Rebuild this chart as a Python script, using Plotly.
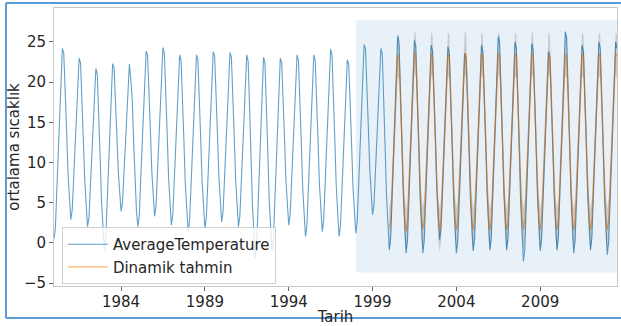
import pandas as pd
import plotly.graph_objects as go

# ---- data (monthly mean temperature) ----
observed_start = "1980-01-01"
observed_1980s = [
    0.5, 1.9, 6.4, 11.6, 16.6, 21.1, 24.2, 23.6, 19.5, 14.0, 8.7, 5.0,
    2.9, 4.1, 7.9, 12.4, 16.6, 20.4, 23.0, 22.4, 18.4, 12.9, 7.7, 4.1,
    2.0, 3.2, 6.9, 11.3, 15.4, 19.1, 21.7, 21.0, 16.7, 10.9, 5.2, 1.4,
    -0.9, 0.5, 4.9, 10.0, 14.9, 19.3, 22.3, 21.8, 18.3, 13.5, 8.9, 5.7,
    3.9, 5.0, 8.5, 12.6, 16.4, 19.9, 22.3, 20.2, 17.8, 12.6, 7.5, 4.0,
    2.0, 3.3, 7.5, 12.3, 16.9, 21.1, 23.9, 23.3, 19.4, 14.0, 8.9, 5.4,
    3.3, 4.6, 8.6, 13.2, 17.6, 21.6, 24.3, 23.6, 19.4, 13.7, 8.2, 4.4,
    2.2, 3.5, 7.5, 12.2, 16.6, 20.6, 23.4, 22.7, 18.6, 12.8, 7.3, 3.6,
    1.4, 2.7, 6.9, 11.7, 16.4, 20.5, 23.4, 22.8, 18.7, 13.0, 7.6, 4.0,
    1.8, 3.1, 7.3, 12.1, 16.8, 20.9, 23.8, 23.2, 19.1, 13.6, 8.3, 4.7,
]
observed_1990s = [
    2.6, 3.9, 7.9, 12.5, 17.0, 21.0, 23.7, 23.1, 18.9, 13.3, 7.9, 4.2,
    2.0, 3.3, 7.4, 12.1, 16.6, 20.6, 23.4, 22.6, 17.8, 11.2, 4.9, 0.5,
    -2.0, -0.5, 4.3, 9.8, 15.1, 19.8, 23.1, 22.4, 17.8, 11.5, 5.4, 1.3,
    -1.1, 0.4, 4.9, 10.2, 15.3, 19.9, 23.0, 22.4, 18.4, 13.0, 7.8, 4.3,
    2.2, 3.5, 7.5, 12.2, 16.6, 20.6, 23.4, 22.7, 18.4, 12.6, 6.9, 3.1,
    0.8, 2.2, 6.5, 11.4, 16.2, 20.5, 23.4, 22.7, 18.6, 12.8, 7.3, 3.6,
    1.4, 2.8, 7.1, 12.1, 16.8, 21.2, 24.1, 23.4, 19.0, 12.9, 7.1, 3.1,
    0.8, 2.1, 6.3, 11.1, 15.8, 19.9, 22.8, 22.2, 18.1, 12.4, 7.0, 3.4,
    1.2, 2.6, 7.1, 12.3, 17.2, 21.7, 24.7, 24.1, 20.0, 14.5, 9.2, 5.6,
    3.5, 4.7, 8.7, 13.2, 17.6, 21.5, 24.2, 23.5, 18.7, 12.2, 5.9, 1.6,
]
observed_2000s = [
    -0.9, 0.7, 5.8, 11.6, 17.2, 22.2, 25.7, 24.9, 19.8, 12.7, 6.0, 1.4,
    -1.3, 0.3, 5.3, 11.2, 16.7, 21.8, 25.2, 24.4, 19.4, 12.5, 5.9, 1.4,
    -1.3, 0.3, 5.2, 10.9, 16.3, 21.2, 24.6, 23.9, 19.3, 13.0, 6.9, 2.8,
    0.4, 1.8, 6.4, 11.7, 16.7, 21.3, 24.4, 23.6, 18.8, 12.1, 5.6, 1.3,
    -1.3, 0.2, 4.9, 10.4, 15.6, 20.4, 23.6, 22.9, 18.2, 11.8, 5.6, 1.5,
    -1.0, 0.5, 5.4, 11.0, 16.4, 21.3, 24.6, 23.8, 19.0, 12.4, 6.0, 1.7,
    -0.9, 0.7, 5.8, 11.6, 17.2, 22.2, 25.7, 24.9, 19.9, 12.9, 6.3, 1.8,
    -0.9, 0.7, 5.6, 11.3, 16.7, 21.6, 25.0, 24.2, 19.0, 11.9, 5.1, 0.4,
    -2.3, -0.7, 4.5, 10.4, 16.1, 21.3, 24.8, 24.0, 19.1, 12.4, 6.0, 1.6,
    -1.0, 0.5, 5.2, 10.7, 15.9, 20.6, 23.8, 23.1, 18.4, 11.9, 5.8, 1.6,
]
observed_2010s = [
    -0.9, 0.7, 5.9, 11.9, 17.6, 22.8, 26.3, 25.5, 20.2, 13.1, 6.2, 1.5,
    -1.3, 0.3, 5.2, 10.9, 16.3, 21.2, 24.6, 23.8, 19.0, 12.4, 6.0, 1.7,
    -0.9, 0.7, 5.6, 11.3, 16.7, 21.6, 25.0, 24.2, 19.2, 12.3, 5.7, 1.2,
    -1.5, 0.1, 5.1, 11.0, 16.5, 21.6, 25.0, 24.2,
]

forecast_start = "2000-01-01"
forecast_2000s = [
    1.8, 2.6, 6.4, 11.3, 15.9, 20.2, 23.4, 23.1, 18.8, 12.9, 7.3, 3.0,
    1.4, 2.7, 6.7, 11.6, 16.1, 20.4, 23.7, 23.3, 19.0, 13.1, 7.5, 3.3,
    1.7, 2.9, 6.6, 11.5, 16.0, 20.3, 23.5, 23.2, 18.9, 13.0, 7.4, 3.1,
    1.5, 2.8, 6.5, 11.4, 16.0, 20.3, 23.5, 23.2, 18.9, 13.0, 7.4, 3.2,
    1.6, 2.8, 6.6, 11.5, 16.1, 20.4, 23.6, 23.3, 19.0, 13.1, 7.4, 3.2,
    1.6, 2.9, 6.6, 11.5, 16.0, 20.3, 23.5, 23.2, 18.9, 13.0, 7.4, 3.2,
    1.5, 2.8, 6.6, 11.5, 16.0, 20.3, 23.6, 23.2, 18.9, 13.0, 7.4, 3.2,
    1.6, 2.8, 6.6, 11.5, 16.0, 20.3, 23.5, 23.2, 18.9, 13.0, 7.4, 3.2,
    1.6, 2.8, 6.6, 11.5, 16.1, 20.4, 23.6, 23.3, 19.0, 13.0, 7.4, 3.2,
    1.6, 2.8, 6.6, 11.5, 16.0, 20.3, 23.5, 23.2, 18.9, 13.0, 7.4, 3.2,
]
forecast_2010s = [
    1.6, 2.8, 6.6, 11.5, 16.0, 20.3, 23.5, 23.2, 18.9, 13.0, 7.4, 3.2,
    1.6, 2.8, 6.6, 11.5, 16.0, 20.3, 23.5, 23.2, 18.9, 13.0, 7.4, 3.2,
    1.6, 2.8, 6.6, 11.5, 16.0, 20.3, 23.5, 23.2, 18.9, 13.0, 7.4, 3.2,
    1.6, 2.8, 6.6, 11.5, 16.0, 20.3, 23.5, 23.2,
]
ci_half_width = 2.7          # confidence band around the forecast
shade_start = "1998-01-01"   # shaded forecast window
shade_y = [-3.7, 27.7]
y_range = [-5.37, 29.23]
y_ticks = [-5, 0, 5, 10, 15, 20, 25]
x_tick_years = [1984, 1989, 1994, 1999, 2004, 2009]

# ---- build ----
observed = observed_1980s + observed_1990s + observed_2000s + observed_2010s
forecast = forecast_2000s + forecast_2010s
obs_dates = pd.date_range(observed_start, periods=len(observed), freq="MS")
fc_dates = pd.date_range(forecast_start, periods=len(forecast), freq="MS")
ci_lo = [v - ci_half_width for v in forecast]
ci_hi = [v + ci_half_width for v in forecast]

fig = go.Figure()
fig.add_trace(go.Scatter(
    x=obs_dates, y=observed, mode="lines", name="AverageTemperature",
    line=dict(color="rgba(31,119,180,0.7)", width=1.1)))
fig.add_trace(go.Scatter(
    x=fc_dates, y=forecast, mode="lines", name="Dinamik tahmin",
    line=dict(color="rgba(255,127,14,0.62)", width=1.2)))
fig.add_trace(go.Scatter(
    x=fc_dates, y=ci_hi, mode="lines", line=dict(width=0),
    showlegend=False, hoverinfo="skip"))
fig.add_trace(go.Scatter(
    x=fc_dates, y=ci_lo, mode="lines", line=dict(width=0), fill="tonexty",
    fillcolor="rgba(0,0,0,0.15)", showlegend=False, hoverinfo="skip"))

fig.add_shape(type="rect", xref="x", yref="y", x0=shade_start, x1=obs_dates[-1],
              y0=shade_y[0], y1=shade_y[1], fillcolor="rgba(31,119,180,0.1)",
              line=dict(width=0), layer="below")

# outer blue frame of the screenshot
border = dict(color="#5b9bd8", width=2)
fig.add_shape(type="line", xref="paper", yref="paper", x0=-0.0853, x1=1.02, y0=1.018, y1=1.018, line=border)
fig.add_shape(type="line", xref="paper", yref="paper", x0=-0.0853, x1=1.02, y0=-0.115, y1=-0.115, line=border)
fig.add_shape(type="line", xref="paper", yref="paper", x0=-0.0853, x1=-0.0853, y0=-0.115, y1=1.018, line=border)

fig.update_layout(
    width=621, height=326,
    margin=dict(l=54, r=4, t=8, b=40),
    paper_bgcolor="white", plot_bgcolor="white",
    font=dict(family="DejaVu Sans", size=15, color="#262626"),
    showlegend=True,
    legend=dict(x=0.014, y=0.212, xanchor="left", yanchor="top",
                bgcolor="rgba(255,255,255,0.8)", bordercolor="#d0d0d0", borderwidth=1,
                font=dict(size=15), tracegroupgap=0, traceorder="normal",
                itemwidth=40),
    xaxis=dict(
        type="date", range=[obs_dates[0], obs_dates[-1]],
        tickvals=[f"{y}-01-01" for y in x_tick_years],
        ticktext=[str(y) for y in x_tick_years],
        ticks="outside", ticklen=4, tickcolor="#666", ticklabelstandoff=-2,
        showline=True, mirror=True, linecolor="#c8c8c8", linewidth=1,
        showgrid=False, zeroline=False, automargin=False,
        title=dict(text="Tarih", font=dict(size=15)),
    ),
    yaxis=dict(
        range=y_range, tickvals=y_ticks,
        ticks="outside", ticklen=4, tickcolor="#666",
        showline=True, mirror=True, linecolor="#c8c8c8", linewidth=1,
        showgrid=False, zeroline=False, automargin=True,
        title=dict(text="ortalama sıcaklık", standoff=0, font=dict(size=15)),
    ),
)

fig.write_html(
    "out.html",
    config={"displayModeBar": False},
    post_script="document.body.style.margin='0';document.body.style.overflow='hidden';",
)
